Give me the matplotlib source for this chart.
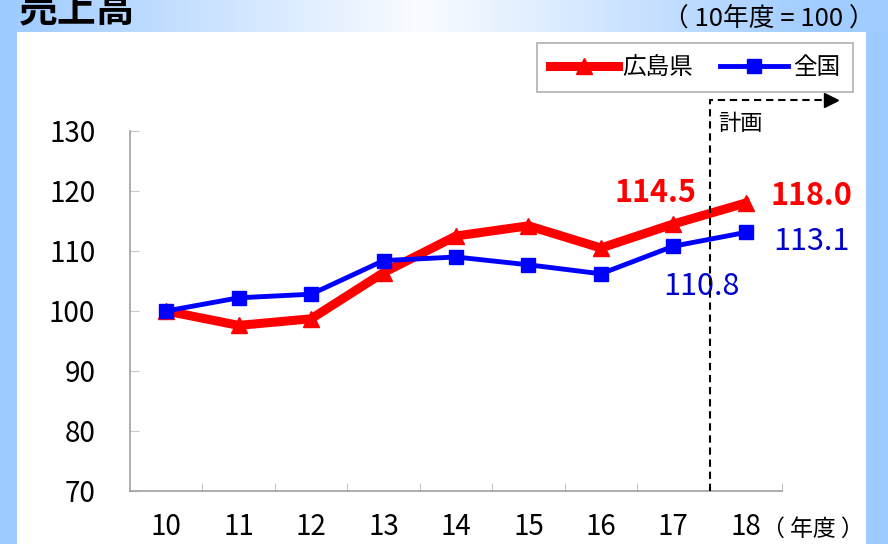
import numpy as np
import matplotlib.pyplot as plt
from matplotlib.patches import Rectangle

plt.rcParams['font.family'] = ['Noto Sans CJK JP', 'DejaVu Sans']

years = ['10', '11', '12', '13', '14', '15', '16', '17', '18']
hiroshima = [100.0, 97.6, 98.7, 106.4, 112.5, 114.2, 110.5, 114.5, 118.0]
zenkoku = [100.0, 102.2, 102.8, 108.4, 109.0, 107.7, 106.2, 110.8, 113.1]
yticks = [70, 80, 90, 100, 110, 120, 130]

fig = plt.figure(figsize=(8.88, 5.44), dpi=100)
fig.patch.set_facecolor('#9ECBFF')

# background: white panel + gradient header band (pixel coords)
bg = fig.add_axes([0, 0, 1, 1], zorder=0)
bg.axis('off')
bg.add_patch(Rectangle((17, 32), 849, 512, facecolor='white', edgecolor='none'))
xs = np.linspace(17, 888, 400)
w = np.interp(xs, [17, 420, 820, 888], [0, 1, 0, 0])
blue = np.array([160, 204, 255]) / 255
white = np.array([250, 252, 255]) / 255
band = blue[None, :] * (1 - w[:, None]) + white[None, :] * w[:, None]
bg.imshow(band[None, :, :], extent=(17, 888, 32, 0), aspect='auto')
bg.set_xlim(0, 888)
bg.set_ylim(544, 0)

bg.text(19, 21, '売上高', fontsize=28, fontweight='bold', va='baseline', ha='left')
bg.text(875, 19, '（ 10年度 = 100 ）', fontsize=18.5, va='center', ha='right')
bg.text(762, 529, '（ 年度 ）', fontsize=16.5, va='center', ha='left')

ax = fig.add_axes([130 / 888, 53 / 544, 652 / 888, 360 / 544], zorder=1)
ax.patch.set_alpha(0)
x = np.arange(len(years))

ax.plot(x, hiroshima, color='#FF0000', lw=6.5, marker='^', ms=12, label='広島県')
ax.plot(x, zenkoku, color='#0000FF', lw=3.5, marker='s', ms=10, label='全国')

ax.set_xlim(-0.5, len(years) - 0.5)
ax.set_ylim(70, 130)
ax.set_yticks(yticks)
ax.set_xticks(x, years)
ax.set_xticks(np.arange(len(years)) + 0.5, minor=True)
ax.tick_params(axis='x', which='major', length=0, pad=15, labelsize=20)
ax.tick_params(axis='x', which='minor', direction='in', length=6, color='#B8B8B8')
ax.tick_params(axis='y', direction='in', length=6.5, color='#C8C8C8', pad=25, labelsize=20)
for s in ['top', 'right']:
    ax.spines[s].set_visible(False)
for s in ['left', 'bottom']:
    ax.spines[s].set_color('#A0A0A0')
    ax.spines[s].set_linewidth(1.2)

# plan boundary between 17 and 18
plan_start = len(years) - 1.5
ytop = 135.2
ax.plot([plan_start, plan_start, 9.08], [70, ytop, ytop], color='black',
        lw=1.5, dashes=(3.5, 2.3), clip_on=False, zorder=5)
ax.plot([9.17], [ytop], marker='>', color='black', ms=10, clip_on=False, zorder=5)
ax.annotate('計画', xy=(plan_start, 130), xytext=(9, 8), textcoords='offset pixels',
            fontsize=16, ha='left', va='center')

# value labels
ax.annotate('114.5', xy=(7, hiroshima[7]), xytext=(-18, 31), textcoords='offset pixels',
            color='#FF0000', fontsize=22, fontweight='bold', ha='center', va='center')
ax.annotate('118.0', xy=(8, hiroshima[8]), xytext=(66, 7), textcoords='offset pixels',
            color='#FF0000', fontsize=22, fontweight='bold', ha='center', va='center')
ax.annotate('113.1', xy=(8, zenkoku[8]), xytext=(66, -9), textcoords='offset pixels',
            color='#0000CC', fontsize=22, ha='center', va='center')
ax.annotate('110.8', xy=(7, zenkoku[7]), xytext=(28, -40), textcoords='offset pixels',
            color='#0000CC', fontsize=22, ha='center', va='center')

leg = ax.legend(loc='upper right', bbox_to_anchor=(853 / 888, 1 - 43 / 544),
                bbox_transform=fig.transFigure, ncol=2, fontsize=17, frameon=True,
                fancybox=False, edgecolor='#B0B0B0', framealpha=1, borderpad=0.55,
                borderaxespad=0, handlelength=2.9, handletextpad=0.2, columnspacing=1.1)
leg.get_frame().set_linewidth(1.2)

fig.savefig('out.png', dpi=100, facecolor=fig.get_facecolor())
